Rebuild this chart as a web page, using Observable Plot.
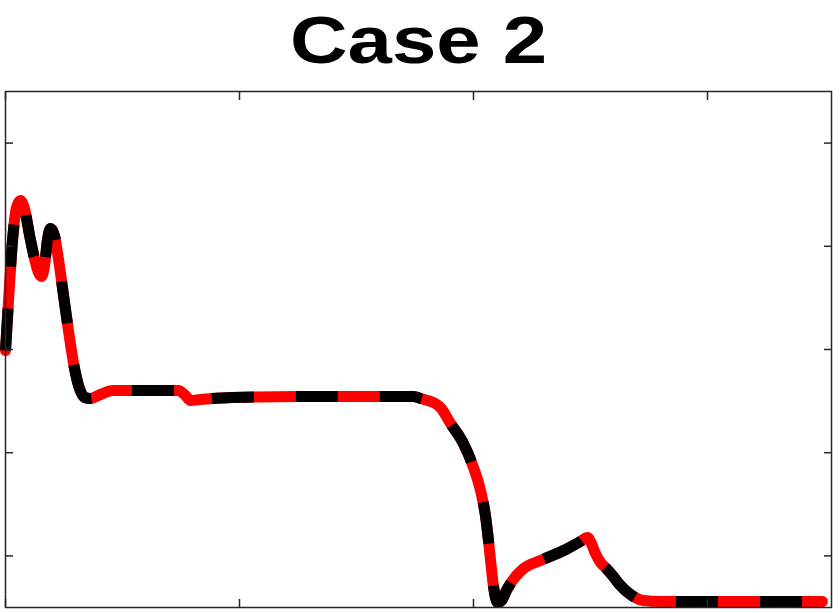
<!DOCTYPE html>
<html>
<head>
<meta charset="utf-8">
<script src="https://cdn.jsdelivr.net/npm/d3@7"></script>
<script src="https://cdn.jsdelivr.net/npm/@observablehq/plot@0.6"></script>
<style>
  html, body { margin: 0; padding: 0; background: #ffffff; }
  #chart svg { display: block; }
</style>
</head>
<body>
<div id="chart"></div>
<script>
const titleText = "Case 2";
const xTicks = [0, 1, 2, 3];
const yTicks = [0.5, 1.5, 2.5, 3.5, 4.5];
const xs = [0, 0.013, 0.030, 0.047, 0.064, 0.081, 0.103, 0.124, 0.141, 0.154, 0.167, 0.179, 0.192, 0.209, 0.226, 0.248, 0.269, 0.291, 0.312, 0.338, 0.363, 0.406, 0.457, 0.620, 0.739, 0.765, 0.791, 0.833, 0.970, 1.261, 1.709, 1.744, 1.774, 1.829, 1.859, 1.902, 1.957, 2.000, 2.030, 2.051, 2.064, 2.073, 2.085, 2.103, 2.120, 2.141, 2.167, 2.214, 2.286, 2.385, 2.457, 2.487, 2.504, 2.521, 2.543, 2.568, 2.594, 2.628, 2.671, 2.726, 2.799, 3.491];
const ys = [2.49, 2.975, 3.556, 3.876, 3.944, 3.866, 3.605, 3.382, 3.246, 3.207, 3.314, 3.556, 3.672, 3.605, 3.382, 3.023, 2.684, 2.364, 2.151, 2.035, 2.025, 2.064, 2.103, 2.103, 2.103, 2.064, 2.006, 2.016, 2.035, 2.045, 2.045, 2.045, 2.025, 1.986, 1.938, 1.783, 1.589, 1.357, 1.134, 0.891, 0.649, 0.455, 0.213, 0.048, 0.068, 0.165, 0.262, 0.378, 0.455, 0.552, 0.640, 0.678, 0.620, 0.523, 0.436, 0.378, 0.310, 0.213, 0.126, 0.068, 0.058, 0.058];

const data = xs.map((x, i) => ({x, y: ys[i]}));
const axisColor = "#262626";

const chart = Plot.plot({
  width: 840,
  height: 613,
  marginLeft: 5,
  marginRight: 9,
  marginTop: 91,
  marginBottom: 6,
  style: {background: "#ffffff", fontFamily: "'Liberation Sans', Arial, Helvetica, sans-serif", overflow: "visible"},
  x: {domain: [0, 3.53], axis: null},
  y: {domain: [0, 5], axis: null},
  marks: [
    Plot.line(data, {x: "x", y: "y", stroke: "#ff0000", strokeWidth: 11, strokeLinecap: "round", strokeLinejoin: "round", curve: "monotone-x"}),
    Plot.line(data, {x: "x", y: "y", stroke: "#000000", strokeWidth: 11, strokeLinecap: "butt", strokeLinejoin: "round", strokeDasharray: "42,42", curve: "monotone-x"}),
    Plot.axisX(xTicks, {anchor: "bottom", tickSize: -8, tickFormat: () => "", label: null, stroke: axisColor, strokeWidth: 1.5}),
    Plot.axisX(xTicks, {anchor: "top", tickSize: -8, tickFormat: () => "", label: null, stroke: axisColor, strokeWidth: 1.5}),
    Plot.axisY(yTicks, {anchor: "left", tickSize: -8, tickFormat: () => "", label: null, stroke: axisColor, strokeWidth: 1.5}),
    Plot.axisY(yTicks, {anchor: "right", tickSize: -8, tickFormat: () => "", label: null, stroke: axisColor, strokeWidth: 1.5}),
    Plot.frame({stroke: axisColor, strokeWidth: 1.5}),
    Plot.text([titleText], {frameAnchor: "top", text: d => d, dy: -50, fontSize: 66, fontWeight: "bold", fill: "#000000", lineAnchor: "middle"})
  ]
});

document.getElementById("chart").appendChild(chart);
d3.select(chart).selectAll('g[aria-label="text"] text')
  .filter(function() { return this.textContent === titleText; })
  .attr("textLength", 257)
  .attr("lengthAdjust", "spacingAndGlyphs");
</script>
</body>
</html>
